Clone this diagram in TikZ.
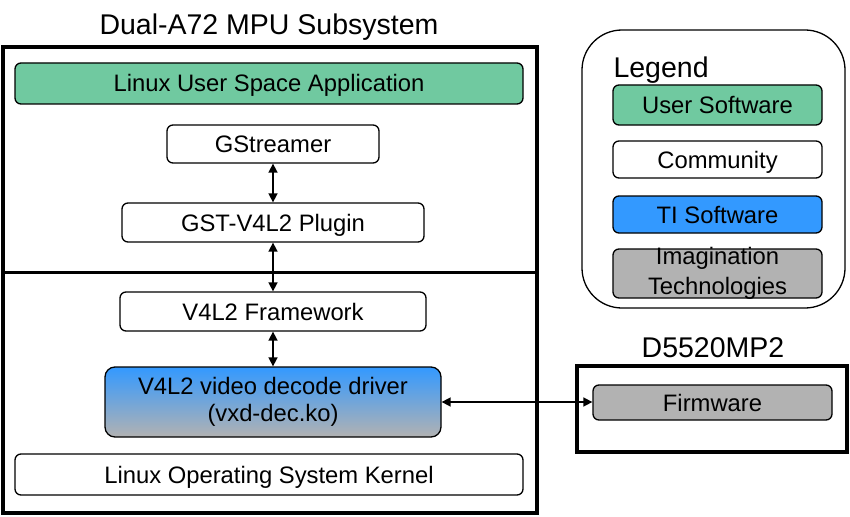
\documentclass[tikz,border=0pt]{standalone}
\usepackage{fontspec}
\setmainfont{Liberation Sans}
\usetikzlibrary{arrows.meta}

\definecolor{usergreen}{RGB}{112,201,160}
\definecolor{tiblue}{RGB}{51,153,255}
\definecolor{imggray}{RGB}{178,178,178}

\tikzset{
    swbox/.style={draw, line width=1.3pt, rounded corners=6pt, inner sep=0pt,
        font=\fontsize{23.8}{27}\selectfont},
    oneline/.style={text height=17pt, text depth=0pt},
    bigbox/.style={draw, line width=3.5pt, inner sep=0pt},
    dblarrow/.style={{Triangle[length=9pt,width=9pt]}-{Triangle[length=9pt,width=9pt]}, line width=1.6pt},
    title/.style={font=\fontsize{28.5}{32}\selectfont, anchor=base}
}

\begin{document}
\begin{tikzpicture}[x=1pt,y=-1pt]
                \useasboundingbox (0,0) rectangle (850,516);

                % MPU subsystem
                \node[bigbox, minimum width=534, minimum height=466] (mpu) at (270,280) {};
                \draw[line width=3pt] (mpu.west |- 0,272) -- (mpu.east |- 0,272);
                \node[title] (mputitle) at (269,35) {Dual-A72 MPU Subsystem};

                \node[swbox, oneline, fill=usergreen, minimum width=508, minimum height=41] (app) at (269,83.5) {Linux User Space Application};
                \node[swbox, oneline, minimum width=212, minimum height=38] (gst) at (273,144) {GStreamer};
                \node[swbox, oneline, minimum width=302, minimum height=39] (plugin) at (273,222.5) {GST-V4L2 Plugin};
                \node[swbox, oneline, minimum width=306, minimum height=39] (framework) at (273,311.5) {V4L2 Framework};
                \node[swbox, rounded corners=10pt, top color=tiblue, bottom color=imggray,
                    minimum width=336, minimum height=70, align=center] (driver) at (273,402)
                    {V4L2 video decode driver\\(vxd-dec.ko)};
                \node[swbox, oneline, minimum width=508, minimum height=41] (kernel) at (269,474.5) {Linux Operating System Kernel};

                % D5520MP2
                \node[bigbox, minimum width=270, minimum height=86] (core) at (712,409) {};
                \node[title] (coretitle) at (713,357) {D5520MP2};
                \node[swbox, oneline, fill=imggray, minimum width=239, minimum height=35] (firmware) at (712.5,402.5) {Firmware};

                \draw[dblarrow] (gst) -- (plugin);
                \draw[dblarrow] (plugin) -- (framework);
                \draw[dblarrow] (framework) -- (driver);
                \draw[dblarrow] (driver.east) -- (driver.east -| firmware.west);

                % legend
                \node[draw, line width=1.3pt, rounded corners=40pt, minimum width=263, minimum height=278] (legend) at (713.5,169) {};
                \node[title, anchor=base west] (legendtitle) at (610,78) {Legend};
                \node[swbox, oneline, fill=usergreen, minimum width=209, minimum height=40] (lguser) at (717.5,105) {User Software};
                \node[swbox, oneline, minimum width=209, minimum height=37] (lgcomm) at (717.5,159.5) {Community};
                \node[swbox, oneline, fill=tiblue, minimum width=209, minimum height=37] (lgti) at (717.5,214.5) {TI Software};
                \node[swbox, fill=imggray, minimum width=209, minimum height=49,
                    label={[font=\fontsize{23.8}{30}\selectfont, align=center]center:Imagination\\Technologies}] (lgimg) at (717.5,273.5) {};
            \end{tikzpicture}
\end{document}
